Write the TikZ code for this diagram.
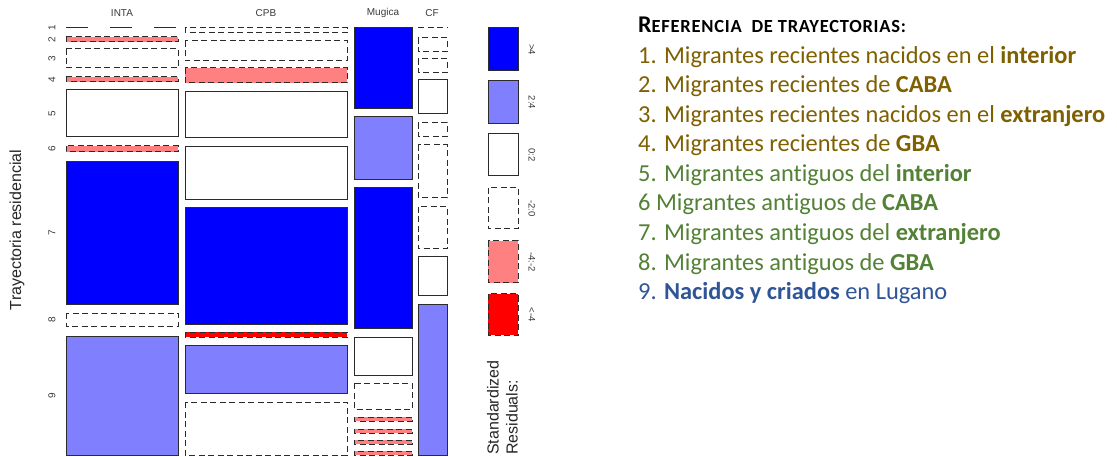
\documentclass[tikz,border=0pt]{standalone}
\usepackage{fontspec}
\setmainfont[RawFeature=-liga]{Carlito}
\newfontfamily\plotfont{Liberation Sans}
\definecolor{cBlue}{HTML}{0000FF}
\definecolor{cLBlue}{HTML}{8080FF}
\definecolor{cPink}{HTML}{FF8080}
\definecolor{cRed}{HTML}{FF0000}
\definecolor{bordc}{HTML}{2B2B2B}
\definecolor{txtgold}{HTML}{7F6000}
\definecolor{txtgreen}{HTML}{538135}
\definecolor{txtblue}{HTML}{2F5597}
\definecolor{lblc}{HTML}{3A3A3A}
\begin{document}
\begin{tikzpicture}[x=1pt,y=-1pt,
  solidcell/.style={draw=bordc,line width=1pt},
  dashcell/.style={draw=bordc,line width=1pt,dash pattern=on 6pt off 3.5pt},
  collbl/.style={font=\plotfont\fontsize{10}{10}\selectfont,text=lblc,inner sep=0pt},
  rowlbl/.style={font=\plotfont\fontsize{10}{10}\selectfont,text=lblc,inner sep=0pt,rotate=90},
  leglbl/.style={font=\plotfont\fontsize{9.5}{10}\selectfont,text=lblc,inner sep=0pt,rotate=-90},
  axtitle/.style={font=\plotfont\fontsize{16}{16}\selectfont,text=black!85,inner sep=0pt,rotate=90},
  reftxt/.style={font=\fontsize{24.4}{24.4}\selectfont,anchor=base west,inner sep=0pt}]
\useasboundingbox[fill=white] (0,0) rectangle (1117,457);

% ---- column labels
\node[collbl] (cINTA) at (122,13) {INTA};
\node[collbl] (cCPB) at (266,13) {CPB};
\node[collbl] (cMug) at (383,13) {Mugica};
\node[collbl] (cCF) at (432,13) {CF};

% ---- row labels
\node[rowlbl] (r1) at (52,28) {1};
\node[rowlbl] (r2) at (52,39.5) {2};
\node[rowlbl] (r3) at (52,58.5) {3};
\node[rowlbl] (r4) at (52,79.5) {4};
\node[rowlbl] (r5) at (52,113.5) {5};
\node[rowlbl] (r6) at (52,149) {6};
\node[rowlbl] (r7) at (52,233) {7};
\node[rowlbl] (r8) at (52,319.5) {8};
\node[rowlbl] (r9) at (52,395.5) {9};
\node[axtitle] (ytitle) at (17,230) {Trayectoria residencial};

% ---- INTA column
\draw[draw=bordc,line width=1pt,dash pattern=on 22pt off 22pt] (66,28) -- (178,28);
\draw[dashcell,fill=cPink] (66,37) rectangle (178,42);
\draw[dashcell,fill=white] (66,49) rectangle (178,68);
\draw[dashcell,fill=cPink] (66,77) rectangle (178,82);
\draw[solidcell,fill=white] (66,90) rectangle (178,137);
\draw[dashcell,fill=cPink] (66,146) rectangle (178,152);
\draw[solidcell,fill=cBlue] (66,162) rectangle (178,304);
\draw[dashcell,fill=white] (66,313) rectangle (178,326);
\draw[solidcell,fill=cLBlue] (66,336) rectangle (178,455);

% ---- CPB column
\draw[dashcell,fill=white] (185,28) rectangle (347,33);
\draw[dashcell,fill=white] (185,41) rectangle (347,61);
\draw[dashcell,fill=cPink] (185,68) rectangle (347,83);
\draw[solidcell,fill=white] (185,92) rectangle (347,138);
\draw[solidcell,fill=white] (185,147) rectangle (347,200);
\draw[solidcell,fill=cBlue] (185,208) rectangle (347,324);
\draw[dashcell,fill=cRed] (185,332) rectangle (347,337);
\draw[solidcell,fill=cLBlue] (185,345) rectangle (347,393);
\draw[dashcell,fill=white] (185,402) rectangle (347,455);

% ---- Mugica column
\draw[solidcell,fill=cBlue] (354,28) rectangle (412,109);
\draw[solidcell,fill=cLBlue] (354,117) rectangle (412,180);
\draw[solidcell,fill=cBlue] (354,188) rectangle (412,328);
\draw[solidcell,fill=white] (354,337) rectangle (412,375);
\draw[dashcell,fill=white] (354,383) rectangle (412,409);
\draw[dashcell,fill=cPink] (354,417) rectangle (412,421);
\draw[dashcell,fill=cPink] (354,429) rectangle (412,433);
\draw[dashcell,fill=cPink] (354,440) rectangle (412,444);
\draw[dashcell,fill=cPink] (354,451) rectangle (412,455);

% ---- CF column
\draw[dashcell] (418,28) -- (447,28);
\draw[dashcell,fill=white] (418,38) rectangle (447,52);
\draw[dashcell,fill=white] (418,59) rectangle (447,73);
\draw[solidcell,fill=white] (418,80) rectangle (447,114);
\draw[dashcell,fill=white] (418,123) rectangle (447,137);
\draw[dashcell,fill=white] (418,145) rectangle (447,198);
\draw[dashcell,fill=white] (418,207) rectangle (447,249);
\draw[solidcell,fill=white] (418,257) rectangle (447,296);
\draw[solidcell,fill=cLBlue] (418,304) rectangle (447,455);

% ---- legend
\draw[solidcell,fill=cBlue] (488,28) rectangle (518,71);
\draw[solidcell,fill=cLBlue] (488,81) rectangle (518,124);
\draw[solidcell,fill=white] (488,134) rectangle (518,176);
\draw[dashcell,fill=white] (488,188) rectangle (518,229);
\draw[dashcell,fill=cPink] (488,241) rectangle (518,283);
\draw[dashcell,fill=cRed] (488,294) rectangle (518,335);
\node[leglbl] (l1) at (532,49.5) {>4};
\node[leglbl] (l2) at (532,102.5) {2:4};
\node[leglbl] (l3) at (532,155) {0:2};
\node[leglbl] (l4) at (532,208.5) {-2:0};
\node[leglbl] (l5) at (532,262) {-4:-2};
\node[leglbl] (l6) at (532,314.5) {<-4};
\node[axtitle,anchor=west] (std) at (493,455) {Standardized};
\node[axtitle,anchor=west] (res) at (512,455) {Residuals:};

% ---- reference text
\node[reftxt] (title) at (638,33) {\bfseries\addfontfeature{LetterSpace=4}{\fontsize{24}{24}\selectfont R}\fontsize{18.5}{18.5}\selectfont EFERENCIA\ \ DE TRAYECTORIAS:};
\node[reftxt,text=txtgold] (t1) at (638,63.5) {1. Migrantes recientes nacidos en el \textbf{interior}};
\node[reftxt,text=txtgold] (t2) at (638,93) {2. Migrantes recientes de \textbf{CABA}};
\node[reftxt,text=txtgold] (t3) at (638,122.5) {3. Migrantes recientes nacidos en el \textbf{extranjero}};
\node[reftxt,text=txtgold] (t4) at (638,152) {4. Migrantes recientes de \textbf{GBA}};
\node[reftxt,text=txtgreen] (t5) at (638,182) {5. Migrantes antiguos del \textbf{interior}};
\node[reftxt,text=txtgreen] (t6) at (638,211) {6 Migrantes antiguos de \textbf{CABA}};
\node[reftxt,text=txtgreen] (t7) at (638,241) {7. Migrantes antiguos del \textbf{extranjero}};
\node[reftxt,text=txtgreen] (t8) at (638,270.5) {8. Migrantes antiguos de \textbf{GBA}};
\node[reftxt,text=txtblue] (t9) at (638,300) {9. \textbf{Nacidos y criados} en Lugano};
\end{tikzpicture}
\end{document}
